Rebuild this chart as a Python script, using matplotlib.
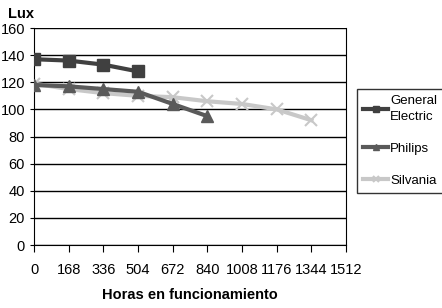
import matplotlib
matplotlib.use("Agg")
import matplotlib.pyplot as plt
import numpy as np

matplotlib.rc('font', family=['Liberation Sans', 'DejaVu Sans'], size=10)

# hours of operation
hours_ge = [0, 168, 336, 504]
lux_ge = [137, 136, 133, 128]

hours_philips = [0, 168, 336, 504, 672, 840]
lux_philips = [118, 117, 115, 113, 104, 95]

hours_silvania = [0, 168, 336, 504, 672, 840, 1008, 1176, 1344]
lux_silvania = [119, 115, 112, 110, 109, 106, 104, 100, 92]

xticks = [0, 168, 336, 504, 672, 840, 1008, 1176, 1344, 1512]
yticks = [0, 20, 40, 60, 80, 100, 120, 140, 160]

fig = plt.figure(figsize=(4.42, 3.08), dpi=100)
ax = fig.add_axes([0.077, 0.2045, 0.706, 0.7045])

ax.plot(hours_ge, lux_ge, color='#404040', lw=3, marker='s', ms=8,
        label='General\nElectric', zorder=5)
ax.plot(hours_philips, lux_philips, color='#5a5a5a', lw=3, marker='^', ms=9,
        label='Philips', zorder=4)
ax.plot(hours_silvania, lux_silvania, color='#c8c8c8', lw=3, marker='x', ms=9,
        mew=1.5, label='Silvania', zorder=3)

ax.set_xlim(0, 1512)
ax.set_ylim(0, 160)
ax.set_xticks(xticks)
ax.set_yticks(yticks)
ax.grid(axis='y', color='black', lw=1)
ax.set_axisbelow(True)
ax.spines['top'].set_visible(False)
for s in ['left', 'bottom', 'right']:
    ax.spines[s].set_color('black')
ax.tick_params(axis='x', length=5, pad=8, labelsize=10.5)
ax.tick_params(axis='y', length=3, labelsize=10.5)

ax.set_xlabel('Horas en funcionamiento', fontweight='bold', fontsize=10.5, labelpad=8)
fig.text(0.018, 0.955, 'Lux', fontweight='bold', fontsize=10.5, ha='left', va='center')

leg = fig.legend(loc='upper left', bbox_to_anchor=(0.808, 0.711),
                 frameon=True, fancybox=False, edgecolor='black', handlelength=1.9,
                 handletextpad=0.15, labelspacing=1.5, borderpad=0.45, borderaxespad=0,
                 fontsize=9.5, markerscale=0.55)
leg.get_frame().set_linewidth(1)
for t in leg.get_texts():
    t.set_multialignment('left')
    t.set_linespacing(1.4)

fig.savefig('out.png', dpi=100)
